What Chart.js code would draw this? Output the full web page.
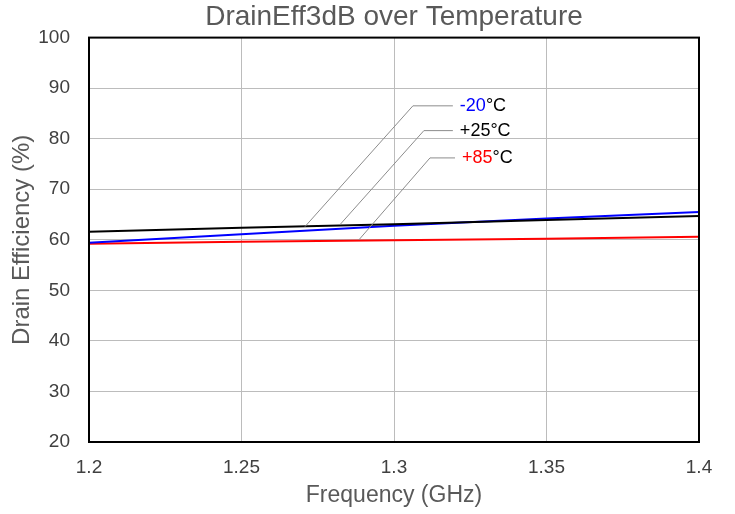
<!DOCTYPE html>
<html lang="en">
<head>
    <meta charset="UTF-8">
    <title>DrainEff3dB over Temperature</title>
    <script src="https://cdn.jsdelivr.net/npm/chart.js"></script>
    <style>
        * { margin: 0; padding: 0; box-sizing: border-box; }
        body { background: #fff; }
        .wrap { width: 735px; height: 514px; }
    </style>
</head>
<body>
    <div class="wrap"><canvas id="chart" width="735" height="514"></canvas></div>

    <script>
        // data
        const freqs = [1.2, 1.25, 1.3, 1.35, 1.4];
        const effM20 = [59.4, 61.1, 62.8, 64.2, 65.5];
        const effP25 = [61.6, 62.4, 63.1, 63.9, 64.7];
        const effP85 = [59.2, 59.6, 59.9, 60.2, 60.6];
        const xTicks = [1.2, 1.25, 1.3, 1.35, 1.4];
        const yTicks = [20, 30, 40, 50, 60, 70, 80, 90, 100];

        // callout labels: text, number colour, label anchor (freq, value), elbow freq, point on curve (freq, value)
        const calloutText = ['-20', '+25', '+85'];
        const calloutColor = ['#0000ff', '#000000', '#ff0000'];
        const calloutAnchor = [[1.3193, 86.5], [1.3193, 81.6], [1.3200, 76.2]];
        const calloutElbow = [1.3062, 1.3098, 1.3118];
        const calloutTarget = [[1.2708, 62.6], [1.2823, 63.0], [1.2885, 60.0]];

        const font = "'Liberation Sans', Arial, sans-serif";

        const frame = {
            id: 'frame',
            afterDatasetsDraw(chart) {
                const { ctx, chartArea: a, scales: { x, y } } = chart;
                ctx.save();
                // callouts
                ctx.lineWidth = 1;
                ctx.strokeStyle = '#8c8c8c';
                ctx.font = '18px ' + font;
                ctx.textBaseline = 'middle';
                for (let i = 0; i < calloutText.length; i++) {
                    const ay = y.getPixelForValue(calloutAnchor[i][1]);
                    const ax = x.getPixelForValue(calloutAnchor[i][0]);
                    const ex = x.getPixelForValue(calloutElbow[i]);
                    const tx = x.getPixelForValue(calloutTarget[i][0]);
                    const ty = y.getPixelForValue(calloutTarget[i][1]);
                    ctx.beginPath();
                    ctx.moveTo(ax, ay);
                    ctx.lineTo(ex, ay);
                    ctx.lineTo(tx, ty);
                    ctx.stroke();
                    let lx = ax + 7;
                    ctx.fillStyle = calloutColor[i];
                    ctx.fillText(calloutText[i], lx, ay);
                    lx += ctx.measureText(calloutText[i]).width;
                    ctx.fillStyle = '#000';
                    ctx.fillText('°C', lx, ay);
                }
                // plot border
                ctx.strokeStyle = '#000';
                ctx.lineWidth = 2;
                ctx.strokeRect(a.left, a.top, a.right - a.left, a.bottom - a.top);
                ctx.restore();
            }
        };

        const toPts = arr => freqs.map((f, i) => ({ x: f, y: arr[i] }));

        new Chart(document.getElementById('chart'), {
            type: 'line',
            data: {
                datasets: [
                    { label: '+25°C', data: toPts(effP25), borderColor: '#000000' },
                    { label: '-20°C', data: toPts(effM20), borderColor: '#0000ff' },
                    { label: '+85°C', data: toPts(effP85), borderColor: '#ff0000' }
                ]
            },
            options: {
                responsive: false,
                animation: false,
                layout: { padding: { left: 0, right: 36, top: 0, bottom: 0 } },
                elements: {
                    line: { borderWidth: 2, tension: 0 },
                    point: { radius: 0 }
                },
                plugins: {
                    legend: { display: false },
                    tooltip: { enabled: false },
                    title: {
                        display: true,
                        fullSize: false,
                        text: 'DrainEff3dB over Temperature',
                        color: '#595959',
                        font: { family: font, size: 28, weight: 'normal' },
                        padding: { top: 0, bottom: 4 }
                    }
                },
                scales: {
                    x: {
                        type: 'linear',
                        min: 1.2,
                        max: 1.4,
                        afterBuildTicks: s => { s.ticks = xTicks.map(v => ({ value: v })); },
                        ticks: {
                            color: '#404040',
                            font: { family: font, size: 19 },
                            padding: 14,
                            maxRotation: 0,
                            callback: v => String(v)
                        },
                        grid: { color: '#bcbcbc', drawTicks: false },
                        border: { display: false },
                        title: {
                            display: true,
                            text: 'Frequency (GHz)',
                            color: '#595959',
                            font: { family: font, size: 23 },
                            padding: { top: 5, bottom: 5 }
                        },
                        afterFit: s => { s.height = 72; }
                    },
                    y: {
                        min: 20,
                        max: 100,
                        afterBuildTicks: s => { s.ticks = yTicks.map(v => ({ value: v })); },
                        ticks: {
                            color: '#404040',
                            font: { family: font, size: 19 },
                            padding: 19
                        },
                        grid: { color: '#bcbcbc', drawTicks: false },
                        border: { display: false },
                        title: {
                            display: true,
                            text: 'Drain Efficiency (%)',
                            color: '#595959',
                            font: { family: font, size: 24 },
                            padding: 8
                        },
                        afterFit: s => { s.width = 89; }
                    }
                }
            },
            plugins: [frame]
        });
    </script>
</body>
</html>
